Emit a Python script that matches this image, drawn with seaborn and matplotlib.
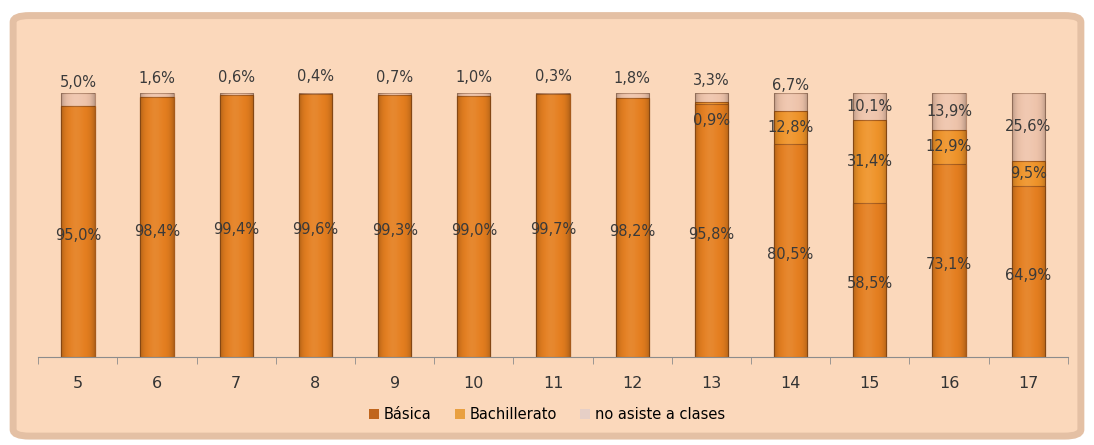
import numpy as np
import pandas as pd
import seaborn as sns
import matplotlib.pyplot as plt
from matplotlib.patches import FancyBboxPatch, Patch

# Datos: distribución por edad (%)
edades = ['5', '6', '7', '8', '9', '10', '11', '12', '13', '14', '15', '16', '17']
basica = [95.0, 98.4, 99.4, 99.6, 99.3, 99.0, 99.7, 98.2, 95.8, 80.5, 58.5, 73.1, 64.9]
bachillerato = [0, 0, 0, 0, 0, 0, 0, 0, 0.9, 12.8, 31.4, 12.9, 9.5]
no_asiste = [5.0, 1.6, 0.6, 0.4, 0.7, 1.0, 0.3, 1.8, 3.3, 6.7, 10.1, 13.9, 25.6]
series = ['Básica', 'Bachillerato', 'no asiste a clases']

df = pd.DataFrame({'Edad': edades, 'Básica': basica,
                   'Bachillerato': bachillerato, 'no asiste a clases': no_asiste})
df['acum_bach'] = df['Básica'] + df['Bachillerato']
df['acum_total'] = df['acum_bach'] + df['no asiste a clases']

col_basica = '#e57e1e'
col_bach = '#ef9328'
col_no = '#efc4ab'
borde = '#a65a1a'
fondo = '#fbd8bb'

fig = plt.figure(figsize=(10.94, 4.45), dpi=100)
fig.patch.set_facecolor('white')

# marco redondeado de fondo
marco = FancyBboxPatch((0.012, 0.02), 0.976, 0.945, boxstyle='round,pad=0,rounding_size=0.015',
                       transform=fig.transFigure, facecolor=fondo, edgecolor='#e4c0a4',
                       linewidth=5, zorder=-5)
fig.patches.append(marco)

ax = fig.add_axes([0.035, 0.198, 0.941, 0.593])
ax.set_facecolor('none')
ax.set_zorder(2)

# barras apiladas: se dibuja el acumulado de mayor a menor
sns.barplot(data=df, x='Edad', y='acum_total', color=col_no, width=0.42,
            edgecolor='#b58a70', linewidth=0.8, saturation=1, ax=ax)
barras_total = list(ax.patches)
sns.barplot(data=df, x='Edad', y='acum_bach', color=col_bach, width=0.42,
            edgecolor=borde, linewidth=0.8, saturation=1, ax=ax)
sns.barplot(data=df, x='Edad', y='Básica', color=col_basica, width=0.42,
            edgecolor=borde, linewidth=0.8, saturation=1, ax=ax)

# sombreado suave tipo cilindro (una sola capa por barra)
xs = np.linspace(-1, 1, 64)
capa = np.zeros((1, 64, 4))
oscuro = np.clip(np.abs(xs) ** 4 * 0.22, 0, 0.22)
claro = np.exp(-((xs + 0.1) / 0.4) ** 2) * 0.08
capa[0, :, :3] = (claro / (claro + oscuro + 1e-9))[:, None]
capa[0, :, 3] = oscuro + claro
for p in barras_total:
    x0, w = p.get_x(), p.get_width()
    im = ax.imshow(capa, extent=(x0, x0 + w, 0, p.get_height()), aspect='auto',
                   zorder=p.get_zorder() + 0.1, interpolation='bilinear')
    im.set_clip_path(p)
ax.set_ylim(0, 100)
ax.set_xlim(-0.5, len(edades) - 0.5)

def fmt(v):
    return f'{v:.1f}%'.replace('.', ',')

lab_kw = dict(ha='center', va='center', fontsize=10.5, color='#3a3a3a',
              textcoords='offset points', annotation_clip=False, zorder=10)
for i in range(len(edades)):
    b = basica[i]
    ba = bachillerato[i]
    n = no_asiste[i]
    ax.annotate(fmt(b), (i, b / 2), xytext=(0, -3), **lab_kw)
    if ba > 0:
        dy = -13 if ba < 5 else 0
        ax.annotate(fmt(ba), (i, b + ba / 2), xytext=(0, dy), **lab_kw)
    dy = 12 if n < 8 else 0
    ax.annotate(fmt(n), (i, b + ba + n / 2), xytext=(0, dy), **lab_kw)

# ejes
for s in ['top', 'right', 'left']:
    ax.spines[s].set_visible(False)
ax.spines['bottom'].set_color('#8c8c8c')
ax.set_yticks([])
ax.set_xlabel('')
ax.set_ylabel('')
ax.tick_params(axis='x', which='major', length=0, pad=14, labelsize=11.5, colors='#333333')
ax.set_xticks(range(len(edades)))
ax.set_xticklabels(edades, family=['Liberation Sans Narrow', 'DejaVu Sans'])
ax.set_xticks([i - 0.5 for i in range(len(edades) + 1)], minor=True)
ax.tick_params(axis='x', which='minor', length=5, color='#8c8c8c')

handles = [Patch(facecolor=c, edgecolor='none') for c in ['#c0651c', '#e9a040', '#e6cfc6']]
fig.legend(handles, series, loc='center', bbox_to_anchor=(0.5, 0.068), ncol=3,
           frameon=False, handlelength=0.7, handleheight=0.7,
           handletextpad=0.3, columnspacing=1.6,
           prop={'family': ['Liberation Sans Narrow', 'DejaVu Sans'], 'size': 10.5})

fig.savefig('out.png', dpi=100, facecolor=fig.get_facecolor())
